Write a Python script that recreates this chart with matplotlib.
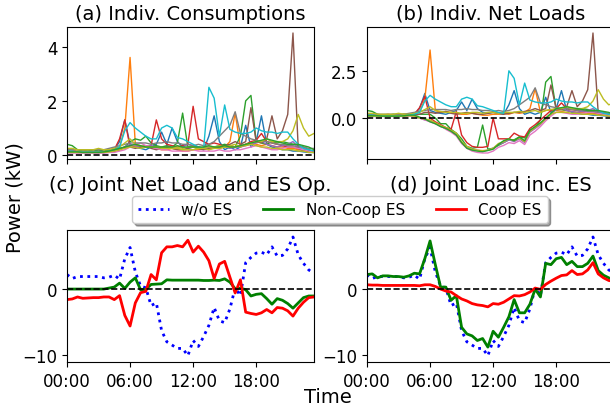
import numpy as np
import matplotlib
matplotlib.use("Agg")
import matplotlib.pyplot as plt

# ---------------- data ----------------
time_h = np.arange(48) * 0.5
xtick_pos = [0, 6, 12, 18]
xtick_labels = ["00:00", "06:00", "12:00", "18:00"]

# individual consumptions (kW)
cons_blue = [0.15,0.12,0.12,0.1,0.1,0.12,0.1,0.1,0.15,0.2,0.5,1.3,0.4,0.3,0.25,0.2,0.3,0.4,0.85,0.4,1.0,0.5,0.3,0.25,
             0.3,0.25,0.2,0.7,1.45,0.5,0.2,0.3,0.2,0.3,1.1,0.3,0.5,1.45,0.4,0.3,0.25,0.2,0.2,0.15,0.15,0.12,0.1,0.1]
cons_orange = [0.2,0.18,0.15,0.15,0.2,0.15,0.15,0.2,0.2,0.25,0.3,1.0,3.6,0.4,0.3,0.35,0.3,0.25,0.2,0.2,0.25,0.2,0.15,0.15,
               0.2,0.2,0.25,0.2,0.3,0.25,0.3,0.5,1.55,0.3,0.4,0.45,0.4,0.35,0.4,0.35,0.3,0.3,0.25,0.25,0.2,0.2,0.15,0.15]
cons_green = [0.4,0.35,0.2,0.15,0.15,0.2,0.15,0.2,0.15,0.2,0.25,0.3,0.5,0.6,0.55,0.7,0.45,0.35,0.3,0.35,0.3,0.45,1.55,0.3,
              0.35,0.3,0.25,0.3,0.3,0.35,0.4,0.35,0.3,0.7,2.0,2.2,0.5,0.45,0.4,0.5,0.45,0.5,0.45,0.4,0.35,0.3,0.2,0.15]
cons_red = [0.15,0.15,0.12,0.12,0.12,0.12,0.12,0.12,0.15,0.2,0.6,1.3,0.3,0.35,0.3,0.3,0.35,1.3,0.6,0.4,0.35,0.3,0.35,0.4,
            1.8,0.6,0.5,0.4,0.45,0.4,0.3,0.35,0.3,0.35,0.4,0.5,0.55,0.8,0.5,0.45,0.4,0.35,0.3,0.3,0.25,0.2,0.15,0.15]
cons_purple = [0.1,0.1,0.1,0.1,0.1,0.1,0.1,0.1,0.1,0.15,0.2,0.3,0.4,0.35,0.3,0.3,0.35,0.3,0.25,0.3,0.3,0.25,0.3,0.4,
               0.35,0.3,0.25,0.3,0.25,0.3,0.3,0.25,0.3,0.3,0.35,0.4,0.45,0.5,0.4,0.35,0.3,0.35,0.4,0.5,0.3,0.2,0.15,0.1]
cons_brown = [0.12,0.12,0.1,0.1,0.1,0.1,0.1,0.1,0.12,0.15,0.2,0.3,0.3,0.25,0.3,0.35,0.25,0.2,0.25,0.3,0.25,0.2,0.2,0.25,
              0.3,0.25,0.2,0.25,0.3,0.3,0.35,0.4,0.5,0.4,0.5,1.75,0.5,0.45,0.6,1.45,0.6,0.9,1.5,4.5,0.25,0.15,0.12,0.1]
cons_pink = [0.08,0.08,0.08,0.08,0.08,0.08,0.08,0.08,0.1,0.1,0.15,0.2,0.3,0.4,0.45,0.35,0.3,0.25,0.2,0.2,0.15,0.15,0.15,0.15,
             0.2,0.15,0.15,0.15,0.15,0.2,0.15,0.15,0.2,0.2,0.25,0.3,0.35,0.3,0.25,0.2,0.2,0.25,0.3,0.3,0.25,0.2,0.15,0.1]
cons_grey = [0.2,0.2,0.2,0.2,0.2,0.2,0.2,0.2,0.25,0.3,0.35,0.4,0.45,0.45,0.45,0.45,0.4,0.45,0.45,0.5,0.45,0.45,0.4,0.4,
             0.35,0.4,0.35,0.4,0.5,0.7,0.9,1.1,1.6,0.8,0.7,0.6,0.55,0.5,0.5,0.45,0.4,0.4,0.35,0.35,0.3,0.3,0.25,0.25]
cons_olive = [0.25,0.25,0.2,0.2,0.2,0.2,0.25,0.2,0.2,0.25,0.3,0.45,0.6,0.4,0.35,0.3,0.3,0.3,0.25,0.25,0.3,0.3,0.25,0.3,
              0.3,0.25,0.3,0.3,0.3,0.35,0.3,0.35,0.4,0.3,0.4,0.45,0.5,0.5,0.6,0.5,0.5,0.5,0.6,0.9,1.5,1.0,0.7,0.8]
cons_cyan = [0.15,0.15,0.12,0.12,0.12,0.12,0.12,0.12,0.15,0.2,0.3,0.9,1.2,1.0,0.85,0.7,0.6,0.6,1.0,1.1,1.0,0.65,0.6,0.5,
             0.4,0.3,0.25,2.5,2.1,0.7,1.85,0.95,0.85,0.8,0.8,0.85,1.0,0.9,0.85,0.85,0.8,0.85,0.85,0.6,0.4,0.25,0.2,0.15]
cons_olive2 = [0.1,0.1,0.1,0.1,0.1,0.1,0.1,0.1,0.12,0.15,0.2,0.25,0.3,0.3,0.25,0.3,0.3,0.3,0.3,0.25,0.25,0.25,0.2,0.2,
               0.2,0.25,0.25,0.2,0.25,0.25,0.3,0.3,0.3,0.35,0.35,0.4,0.35,0.3,0.3,0.25,0.25,0.2,0.2,0.2,0.15,0.15,0.1,0.1]
cons_green2 = [0.12,0.12,0.12,0.1,0.1,0.1,0.1,0.12,0.15,0.2,0.25,0.3,0.35,0.4,0.35,0.3,0.3,0.3,0.3,0.3,0.3,0.35,0.3,0.3,
               0.3,0.3,0.3,0.35,0.3,0.3,0.35,0.3,0.3,0.35,0.4,0.45,0.5,0.55,0.6,0.55,0.5,0.45,0.4,0.4,0.4,0.35,0.3,0.2]

# individual net loads (kW) for households with PV
net_green = [0.4,0.35,0.2,0.15,0.15,0.2,0.15,0.2,0.15,0.2,0.2,0.2,0.2,0.0,-0.3,-0.3,-0.6,-0.8,-1.1,-1.5,-1.6,-1.55,-0.37,-1.65,
             -1.6,-1.45,-1.3,-1.15,-1.15,-1.0,-1.05,-0.65,-0.5,-0.1,1.9,2.2,0.45,0.45,0.4,0.5,0.45,0.5,0.45,0.4,0.35,0.3,0.2,0.15]
net_red = [0.15,0.15,0.12,0.12,0.12,0.12,0.12,0.12,0.15,0.2,0.55,1.15,0.0,-0.2,-0.35,-0.5,-0.6,0.35,-0.9,-1.3,-1.5,-1.55,-1.55,-1.5,
           0.0,-1.1,-1.1,-1.1,-0.8,-0.95,-1.0,-0.55,-0.35,-0.1,0.15,0.4,0.5,0.8,0.5,0.45,0.4,0.35,0.3,0.3,0.25,0.2,0.15,0.15]
net_purple = [0.1,0.1,0.1,0.1,0.1,0.1,0.1,0.1,0.1,0.1,0.0,-0.1,-0.15,-0.3,-0.45,-0.55,-0.7,-0.85,-1.3,-1.55,-1.65,-1.7,-1.75,-1.7,
              -1.6,-1.4,-1.3,-1.15,-1.25,-1.1,-1.3,-0.75,-0.55,-0.35,-0.05,0.2,0.45,0.5,0.4,0.35,0.3,0.35,0.4,0.5,0.3,0.2,0.15,0.1]
net_pink = [0.08,0.08,0.08,0.08,0.08,0.08,0.08,0.08,0.1,0.1,0.0,-0.1,-0.2,-0.3,-0.4,-0.6,-0.75,-0.95,-1.35,-1.6,-1.75,-1.82,-1.85,-1.85,
            -1.75,-1.55,-1.45,-1.3,-1.35,-1.2,-1.4,-0.9,-0.7,-0.45,-0.15,0.1,0.3,0.3,0.25,0.2,0.2,0.25,0.3,0.3,0.25,0.2,0.15,0.1]
net_olive2 = [0.1,0.1,0.1,0.1,0.1,0.1,0.1,0.1,0.12,0.1,0.0,-0.05,-0.1,-0.25,-0.4,-0.5,-0.65,-0.8,-1.25,-1.5,-1.65,-1.7,-1.72,-1.7,
              -1.6,-1.35,-1.25,-1.1,-1.2,-1.05,-1.25,-0.7,-0.5,-0.3,-0.05,0.2,0.3,0.3,0.3,0.25,0.25,0.2,0.2,0.2,0.15,0.15,0.1,0.1]
net_green2 = [0.12,0.12,0.12,0.1,0.1,0.1,0.1,0.12,0.15,0.15,0.05,-0.05,-0.2,-0.3,-0.45,-0.55,-0.7,-0.9,-1.3,-1.6,-1.7,-1.75,-1.78,-1.72,
              -1.65,-1.4,-1.2,-1.1,-1.2,-1.0,-1.2,-0.65,-0.45,-0.25,0.0,0.25,0.5,0.55,0.6,0.55,0.5,0.45,0.4,0.4,0.4,0.35,0.3,0.2]

households_cons = [cons_blue, cons_orange, cons_green, cons_red, cons_purple, cons_brown,
                   cons_pink, cons_grey, cons_olive, cons_cyan, cons_olive2, cons_green2]
households_net = [cons_blue, cons_orange, net_green, net_red, net_purple, cons_brown,
                  net_pink, cons_grey, cons_olive, cons_cyan, net_olive2, net_green2]
household_colors = ["C0", "C1", "C2", "C3", "C4", "C5", "C6", "C7", "C8", "C9", "C8", "C2"]

# joint quantities (kW)
wo_es = [2.2,1.6,1.9,1.9,1.9,1.9,1.9,1.7,1.8,2.1,1.5,4.6,6.3,2.6,0.45,0.2,-2.5,-2.1,-6.3,-8.0,-8.5,-9.0,-9.0,-10.1,
         -7.8,-8.7,-7.2,-5.5,-2.8,-4.8,-5.1,-3.0,0.2,-1.0,4.0,4.8,5.45,5.6,5.2,6.4,5.0,5.1,6.1,7.9,5.2,3.9,2.9,2.4]
noncoop_es_op = [0,0,0,0,0,0,0,0,0.15,0.3,0.9,0.1,1.05,1.7,-0.1,-0.05,0.7,0.75,0.8,1.4,1.35,1.35,1.35,1.35,
                 1.35,1.35,1.3,1.3,1.35,1.3,1.55,1.05,0.05,0.15,-0.1,-1.05,-0.8,-0.7,-1.45,-2.3,-1.45,-1.7,-2.2,-2.9,-2.1,-1.3,-1.05,-1.05]
coop_es_op = [-1.6,-1.5,-1.2,-1.4,-1.35,-1.3,-1.3,-1.2,-1.2,-1.6,-1.0,-4.0,-5.6,-2.1,-0.55,-0.35,2.2,1.4,5.5,6.4,6.4,6.6,6.4,7.4,
              5.6,6.5,5.6,4.3,1.6,3.8,4.2,1.8,-0.6,1.4,-3.5,-3.7,-3.85,-3.6,-3.1,-3.6,-2.8,-2.9,-3.3,-4.1,-2.9,-2.0,-1.3,-1.2]
noncoop_joint = [2.2,2.3,1.7,2.0,2.0,1.9,1.9,1.8,2.0,2.4,2.3,4.6,7.3,3.7,0.3,0.3,-1.7,-1.0,-5.8,-6.8,-7.1,-7.8,-7.5,-8.8,
                 -6.4,-7.3,-5.8,-4.2,-1.6,-3.6,-3.6,-2.3,0.0,-1.2,3.9,3.7,4.6,4.8,3.7,4.2,3.4,3.4,3.9,5.0,2.8,2.1,1.7,1.4]
coop_joint = [0.65,0.6,0.6,0.55,0.55,0.55,0.55,0.55,0.55,0.55,0.5,0.65,0.65,0.4,0.0,-0.3,-0.45,-1.0,-1.5,-1.8,-2.2,-2.4,-2.5,-2.7,
              -2.2,-2.3,-2.0,-1.5,-1.0,-1.05,-0.85,-0.45,0.15,-0.05,0.7,1.2,1.65,2.05,2.15,2.8,2.2,2.3,2.9,4.0,2.3,1.7,1.3,1.15]

titles = ["(a) Indiv. Consumptions", "(b) Indiv. Net Loads",
          "(c) Joint Net Load and ES Op.", "(d) Joint Load inc. ES"]
legend_labels = ["w/o ES", "Non-Coop ES", "Coop ES"]

# ---------------- figure ----------------
W, H = 610, 410
fig = plt.figure(figsize=(W / 100, H / 100), dpi=100)

def add_ax(x0, y_top, y_bot, w=247):
    return fig.add_axes([x0 / W, (H - y_bot) / H, w / W, (y_bot - y_top) / H])

ax_a = add_ax(67, 28, 160)
ax_b = add_ax(367, 28, 160)
ax_c = add_ax(67, 230.7, 363)
ax_d = add_ax(367, 230.7, 363)

for cons, col in zip(households_cons, household_colors):
    ax_a.plot(time_h, cons, color=col, lw=1.0)
for net, col in zip(households_net, household_colors):
    ax_b.plot(time_h, net, color=col, lw=1.0)

ax_c.plot(time_h, wo_es, color="b", ls=":", lw=2, label=legend_labels[0])
ax_c.plot(time_h, noncoop_es_op, color="g", lw=2, label=legend_labels[1])
ax_c.plot(time_h, coop_es_op, color="r", lw=2, label=legend_labels[2])

ax_d.plot(time_h, wo_es, color="b", ls=":", lw=2)
ax_d.plot(time_h, noncoop_joint, color="g", lw=2)
ax_d.plot(time_h, coop_joint, color="r", lw=2)

for ax, t in zip([ax_a, ax_b, ax_c, ax_d], titles):
    ax.axhline(0, color="k", ls="--", lw=1.2)
    pad = 6 if ax in (ax_a, ax_b) else 28.5
    ax.set_title(t, fontsize=14, pad=pad)
    ax.set_xlim(0, 23.5)
    ax.set_xticks(xtick_pos)
    ax.tick_params(labelsize=12)

for ax in [ax_a, ax_b]:
    ax.set_xticklabels([])
for ax in [ax_c, ax_d]:
    ax.set_xticklabels(xtick_labels)
    ax.set_ylim(-11.06, 9.0)

handles, labels = ax_c.get_legend_handles_labels()
fig.legend(handles, labels, loc="upper center", ncol=3, fontsize=11, shadow=True,
           bbox_to_anchor=(340 / W, 1 - 197 / H), borderaxespad=0)

fig.text(15.5 / W, 1 - 197.5 / H, "Power (kW)", rotation=90, ha="center", va="center", fontsize=14)
fig.text(328 / W, (H - 403) / H, "Time", ha="center", va="baseline", fontsize=14)

fig.savefig("out.png", dpi=100)
